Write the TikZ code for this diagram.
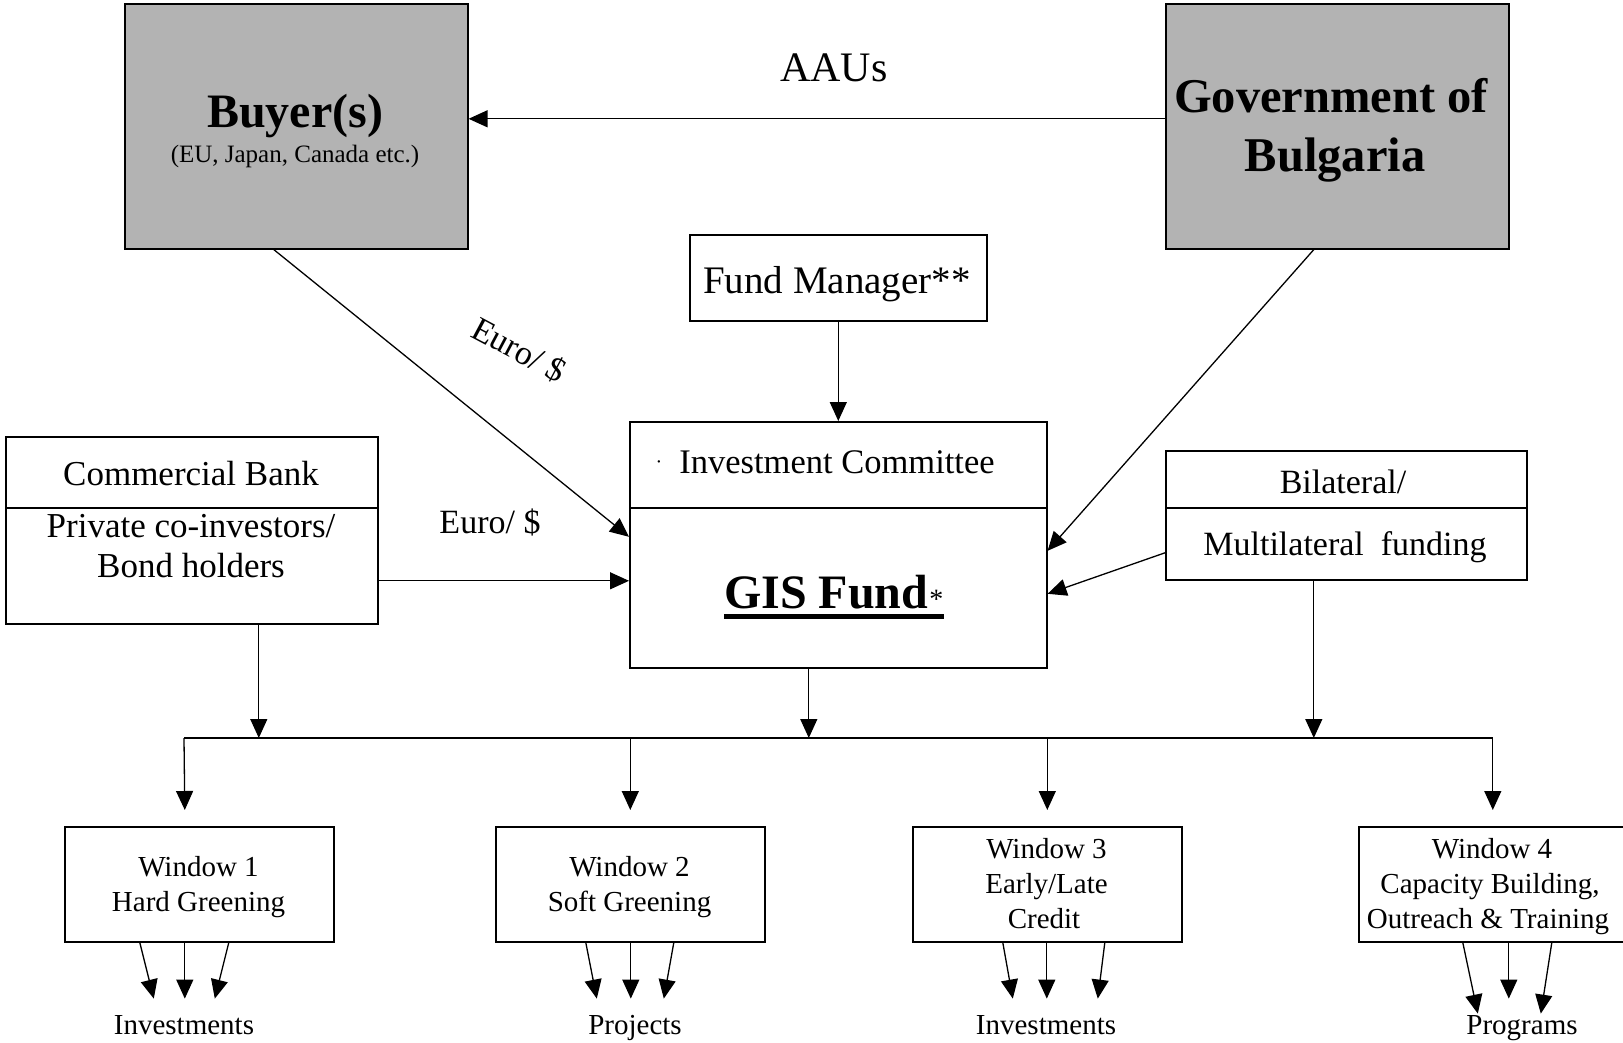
\documentclass[tikz,border=0pt]{standalone}
\usepackage{fontspec}
\setmainfont{Liberation Serif}
\usetikzlibrary{arrows.meta,calc}
\definecolor{boxgray}{RGB}{179,179,179}
\newcommand{\fsz}[1]{\fontsize{#1}{#1}\selectfont}
\begin{document}
\begin{tikzpicture}[x=1pt,y=-1pt,
 frame/.style={draw, line width=1.6pt, inner sep=0pt, anchor=north west},
 grayframe/.style={frame, fill=boxgray},
 lbl/.style={inner sep=0pt, anchor=base},
 arr/.style={line width=1.3pt, -{Triangle[length=19pt,width=17pt]}},
 ln/.style={line width=1.3pt}]
\useasboundingbox (0,0) rectangle (1623,1043);
\fill[white] (0,0) rectangle (1623,1043);

% boxes
\node[grayframe, minimum width=343pt, minimum height=245pt] (buyer) at (124,3) {};
\node[grayframe, minimum width=343pt, minimum height=245pt] (gov) at (1165,3) {};
\node[frame, minimum width=297pt, minimum height=86pt] (fm) at (689,234) {};
\node[frame, minimum width=417pt, minimum height=246pt] (gis) at (629,421) {};
\node[frame, minimum width=372pt, minimum height=187pt] (cb) at (5,436) {};
\node[frame, minimum width=361pt, minimum height=129pt] (bil) at (1165,450) {};
\draw[line width=1.6pt] (gis.west |- 0,508) -- (gis.east |- 0,508);
\draw[line width=1.6pt] (cb.west |- 0,508) -- (cb.east |- 0,508);
\draw[line width=1.6pt] (bil.west |- 0,508) -- (bil.east |- 0,508);

\node[frame, minimum width=269pt, minimum height=115pt] (w1) at (64,826) {};
\node[frame, minimum width=269pt, minimum height=115pt] (w2) at (495,826) {};
\node[frame, minimum width=269pt, minimum height=115pt] (w3) at (912,826) {};
\node[frame, minimum width=268pt, minimum height=115pt] (w4) at (1358,826) {};

% texts
\node[lbl, font=\fsz{42}] (aau) at (834,82) {AAUs};
\node[lbl, font=\bfseries\fsz{48}] (buyert) at (295,128) {Buyer(s)};
\node[lbl, font=\fsz{25}] (buyers) at (295,163) {(EU, Japan, Canada etc.)};
\node[lbl, font=\bfseries\fsz{48.5}] (govt1) at (1331,113) {Government of};
\node[lbl, font=\bfseries\fsz{48.5}] (govt2) at (1335,172) {Bulgaria};
\node[lbl, font=\fsz{39}] (fmt) at (837,293) {Fund Manager**};
\node[lbl, font=\fsz{34.5}] (ict) at (837,473) {Investment Committee};
\node[lbl, font=\fsz{20}] (dot) at (659,468) {·};
\node[inner sep=0pt, anchor=base west, font=\bfseries\fsz{48}] (gist) at (724,608) {GIS Fund{\mdseries\fsz{28}\kern1pt*}};
\draw[line width=5pt] ([yshift=-8pt]gist.base west) -- ([yshift=-8pt]gist.base east);

\node[lbl, font=\fsz{35}] (cbt1) at (191,485) {Commercial Bank};
\node[lbl, font=\fsz{35}] (cbt2) at (191,537) {Private co-investors/};
\node[lbl, font=\fsz{35}] (cbt3) at (191,577) {Bond holders};
\node[lbl, font=\fsz{34}] (euro2) at (490,533) {Euro/ \$};
\node[font=\fsz{34}, rotate=-28, inner sep=0pt] (euro1) at (519,350) {Euro/ \$};
\node[lbl, font=\fsz{34}] (bilt1) at (1343,493) {Bilateral/};
\node[lbl, font=\fsz{34}] (bilt2) at (1345,555) {Multilateral\ \ funding};

\node[lbl, font=\fsz{29}] (w1a) at (198.5,876) {Window 1};
\node[lbl, font=\fsz{29}] (w1b) at (198.5,911) {Hard Greening};
\node[lbl, font=\fsz{29}] (w2a) at (629.5,876) {Window 2};
\node[lbl, font=\fsz{29}] (w2b) at (629.5,911) {Soft Greening};
\node[lbl, font=\fsz{29}] (w3a) at (1046.5,858) {Window 3};
\node[lbl, font=\fsz{29}] (w3b) at (1046.5,893) {Early/Late};
\node[lbl, font=\fsz{29}] (w3c) at (1044,928) {Credit};
\node[lbl, font=\fsz{29}] (w4a) at (1492,858) {Window 4};
\node[lbl, font=\fsz{29}] (w4b) at (1490,893) {Capacity Building,};
\node[lbl, font=\fsz{29}] (w4c) at (1488,928) {Outreach \& Training};

\node[lbl, font=\fsz{29}] (o1) at (184,1034) {Investments};
\node[lbl, font=\fsz{29}] (o2) at (635,1034) {Projects};
\node[lbl, font=\fsz{29}] (o3) at (1046,1034) {Investments};
\node[lbl, font=\fsz{29}] (o4) at (1522,1034) {Programs};

% connectors
\draw[arr] ([yshift=7.5pt]gov.west) -- ([yshift=7.5pt]buyer.east);
\draw[arr] (fm.south) -- (gis.north);
\draw[arr] ([xshift=-22.5pt]buyer.south) -- ([yshift=8pt]gis.west);
\draw[arr] ([yshift=-50.5pt]cb.east) -- ([yshift=-36pt]gis.west);
\draw[arr] ([xshift=-23.5pt]gov.south) -- ([yshift=-6pt]gis.east);
\draw[arr] ([yshift=-37.5pt]bil.west) -- ([yshift=-49pt]gis.east);

\coordinate (b1) at (184,738);
\coordinate (b2) at (w2.north |- b1);
\coordinate (b3) at (w3.north |- b1);
\coordinate (b4) at (w4.north |- b1);
\draw[ln] (b1) -- (b4);
\draw[arr] ([xshift=-29.5pt]gis.south) -- ([xshift=-29.5pt]gis.south |- b1);
\draw[arr] ([xshift=67pt]cb.south) -- ([xshift=67pt]cb.south |- b1);
\draw[arr] ([xshift=-32.5pt]bil.south) -- ([xshift=-32.5pt]bil.south |- b1);
\draw[arr] (b1) -- ([xshift=-14.5pt, yshift=16pt]w1.north);
\draw[arr] (b2) -- ([yshift=16pt]w2.north);
\draw[arr] (b3) -- ([yshift=16pt]w3.north);
\draw[arr] (b4) -- ([yshift=16pt]w4.north);

\draw[arr] ([xshift=-59.5pt]w1.south) -- ++(14,56);
\draw[arr] ([xshift=-14.5pt]w1.south) -- ++(0,56);
\draw[arr] ([xshift=29.5pt]w1.south) -- ++(-14,56);
\draw[arr] ([xshift=-44.5pt]w2.south) -- ++(11,56);
\draw[arr] ([xshift=0.5pt]w2.south) -- ++(0,56);
\draw[arr] ([xshift=43.5pt]w2.south) -- ++(-10,56);
\draw[arr] ([xshift=-44.5pt]w3.south) -- ++(10,56);
\draw[arr] ([xshift=-0.5pt]w3.south) -- ++(0,56);
\draw[arr] ([xshift=57.5pt]w3.south) -- ++(-7,56);
\draw[arr] ([xshift=-30pt]w4.south) -- ++(15,71);
\draw[arr] ([xshift=16pt]w4.south) -- ++(0,56);
\draw[arr] ([xshift=59pt]w4.south) -- ++(-11,71);
\end{tikzpicture}
\end{document}
